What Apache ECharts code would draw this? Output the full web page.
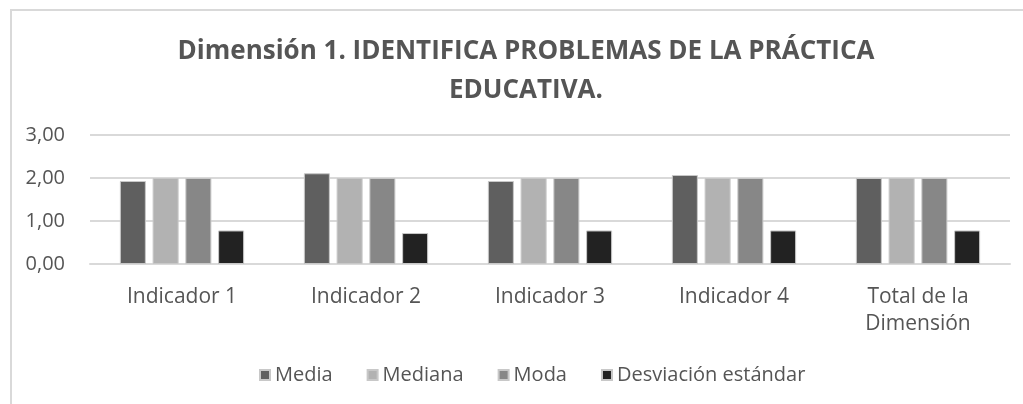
<!DOCTYPE html>
<html>
<head>
<meta charset="utf-8">
<script src="https://cdn.jsdelivr.net/npm/echarts@6/dist/echarts.min.js"></script>
<style>
  html, body { margin: 0; padding: 0; background: #fff; }
  #chart { width: 1023px; height: 404px; }
</style>
</head>
<body>
<div id="chart"></div>
<script>
// data
let categories = ["Indicador 1", "Indicador 2", "Indicador 3", "Indicador 4", "Total de la\nDimensión"];
let media = [1.93, 2.11, 1.93, 2.07, 2.0];
let mediana = [2.0, 2.0, 2.0, 2.0, 2.0];
let moda = [2.0, 2.0, 2.0, 2.0, 2.0];
let desviacion = [0.78, 0.72, 0.78, 0.78, 0.78];
let yTicks = [0, 1, 2, 3];

let font = "'Open Sans', sans-serif";
let textColor = "#555555";

function bar(name, data, color) {
  return {
    name: name,
    type: "bar",
    data: data,
    barWidth: 26,
    barGap: "26%",
    itemStyle: { color: color, borderColor: "#c8c8c8", borderWidth: 1 }
  };
}

let chart = echarts.init(document.getElementById("chart"));
chart.setOption({
  animation: false,
  backgroundColor: "#fff",
  title: {
    text: "Dimensión 1. IDENTIFICA PROBLEMAS DE LA PRÁCTICA\nEDUCATIVA.",
    left: 521,
    top: 27,
    textAlign: "center",
    textStyle: {
      fontFamily: font,
      fontSize: 26,
      fontWeight: "bold",
      color: textColor,
      lineHeight: 39
    }
  },
  legend: {
    data: ["Media", "Mediana", "Moda", "Desviación estándar"],
    left: 254,
    top: 360,
    icon: "rect",
    itemWidth: 10,
    itemHeight: 10,
    itemGap: 34,
    textStyle: { fontFamily: font, fontSize: 20, color: textColor }
  },
  grid: { left: 90, right: 13, top: 135, bottom: 140 },
  xAxis: {
    type: "category",
    data: categories,
    axisLine: { lineStyle: { color: "#d9d9d9", width: 2 } },
    axisTick: { show: false },
    axisLabel: {
      fontFamily: font,
      fontSize: 21,
      color: textColor,
      margin: 20,
      lineHeight: 27
    }
  },
  yAxis: {
    type: "value",
    min: yTicks[0],
    max: yTicks[yTicks.length - 1],
    interval: 1,
    axisLine: { show: false },
    axisTick: { show: false },
    splitLine: { lineStyle: { color: "#d9d9d9", width: 2 } },
    axisLabel: {
      fontFamily: font,
      fontSize: 20,
      color: textColor,
      margin: 25,
      formatter: (v) => v.toFixed(2).replace(".", ",")
    }
  },
  graphic: [{
    type: "polyline",
    shape: { points: [[11, 404], [11, 10], [1023, 10]] },
    style: { stroke: "#d9d9d9", lineWidth: 2, fill: null },
    silent: true
  }],
  series: [
    bar("Media", media, "#5f5f5f"),
    bar("Mediana", mediana, "#b2b2b2"),
    bar("Moda", moda, "#878787"),
    bar("Desviación estándar", desviacion, "#222222")
  ]
});
</script>
</body>
</html>
